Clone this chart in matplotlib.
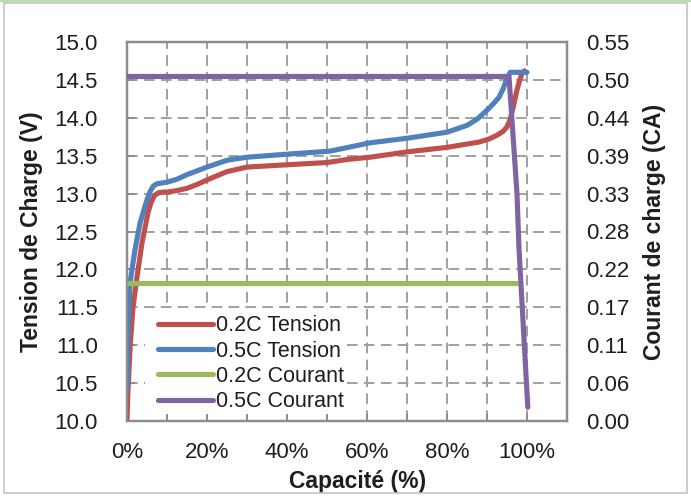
import matplotlib
matplotlib.use("Agg")
from matplotlib import pyplot as plt
from matplotlib.patches import Rectangle
from matplotlib.lines import Line2D
from matplotlib.ticker import MultipleLocator, FixedLocator, FuncFormatter

# capacity (%) / voltage (V)
cap_02_v = [0, 0.2, 0.8, 1.5, 2.5, 3.75, 5.25, 6.0, 6.8, 7.8, 9.0, 10, 12.5, 15, 17.5, 20, 25, 30,
            40, 50, 55, 60.75, 70, 80, 88, 90.5, 92.5, 94, 95, 95.8, 96.6, 97.5, 98.2, 98.75, 99.4]
volt_02 = [10.0, 10.35, 11.0, 11.5, 11.9, 12.35, 12.75, 12.88, 12.97, 13.01, 13.02, 13.02, 13.04,
           13.07, 13.12, 13.18, 13.29, 13.35, 13.38, 13.41, 13.45, 13.48, 13.55, 13.61, 13.68,
           13.72, 13.77, 13.82, 13.88, 13.98, 14.15, 14.37, 14.5, 14.59, 14.62]

cap_05_v = [0, 0.2, 0.75, 2, 3.25, 5, 5.8, 6.6, 7.5, 10, 12.5, 15, 17.5, 20, 25, 30, 40, 50.75,
            60.75, 70, 80, 85, 87.5, 90, 91.5, 93, 94, 95, 95.8, 100]
volt_05 = [10.4, 11.0, 11.82, 12.26, 12.61, 12.92, 13.03, 13.1, 13.13, 13.15, 13.19, 13.25,
           13.3, 13.35, 13.44, 13.48, 13.52, 13.56, 13.67, 13.73, 13.81, 13.9, 13.98, 14.1,
           14.18, 14.27, 14.38, 14.52, 14.6, 14.6]

# capacity (%) / current (CA)
cap_02_i = [0, 97.7]
cur_02 = [0.20, 0.20]

cap_05_i = [0, 95.5, 97.5, 98.0, 100.2]
cur_05 = [0.50, 0.50, 0.33, 0.25, 0.02]

labels = ['0.2C Tension', '0.5C Tension', '0.2C Courant', '0.5C Courant']
colors = ['#C0504D', '#4F81BD', '#9BBB59', '#8064A2']

volt_ticks = [10.0, 10.5, 11.0, 11.5, 12.0, 12.5, 13.0, 13.5, 14.0, 14.5, 15.0]
cur_ticklabels = ['0.00', '0.06', '0.11', '0.17', '0.22', '0.28', '0.33', '0.39', '0.44',
                  '0.50', '0.55']
cap_ticks = [0, 20, 40, 60, 80, 100]


def main():
    plt.rcParams['font.family'] = ['Liberation Sans', 'DejaVu Sans']
    txt = '#1e1e1e'
    grey = '#8c8c8c'

    fig = plt.figure(figsize=(6.91, 4.97), dpi=100)
    ax = fig.add_axes([127/691, 1-421/497, 440/691, 379/497])
    ax2 = ax.twinx()

    ax.plot(cap_02_v, volt_02, color=colors[0], lw=3.7, solid_capstyle='round',
            solid_joinstyle='round', zorder=3)
    ax.plot(cap_05_v, volt_05, color=colors[1], lw=3.7, solid_capstyle='round',
            solid_joinstyle='round', zorder=3)
    ax2.plot(cap_02_i, cur_02, color=colors[2], lw=3.7, solid_capstyle='butt', zorder=3)
    ax2.plot(cap_05_i, cur_05, color=colors[3], lw=3.7, solid_capstyle='round',
             solid_joinstyle='round', zorder=3)

    ax.set_xlim(0, 110)
    ax.set_ylim(10, 15)
    ax2.set_ylim(0, 0.55)

    ax.xaxis.set_major_locator(FixedLocator(cap_ticks))
    ax.xaxis.set_minor_locator(MultipleLocator(10))
    ax.xaxis.set_major_formatter(FuncFormatter(lambda v, p: f'{v:.0f}%'))
    ax.set_yticks(volt_ticks)
    ax.set_yticklabels([f'{v:.1f}' for v in volt_ticks])
    ax2.set_yticks([i * 0.055 for i in range(len(cur_ticklabels))])
    ax2.set_yticklabels(cur_ticklabels)

    dash = (0, (5.5, 3.2))
    ax.grid(True, which='both', axis='x', color='#a0a0a0', lw=1.4, linestyle=dash)
    ax.grid(True, which='major', axis='y', color='#a0a0a0', lw=1.4, linestyle=dash)
    ax.set_axisbelow(True)

    ax.tick_params(axis='x', which='both', direction='in', length=5, width=1.3, color=grey,
                   labelsize=16, labelcolor=txt, pad=15, top=False)
    ax.tick_params(axis='y', which='both', direction='in', length=6, width=1.3, color=grey,
                   labelsize=16, labelcolor=txt, pad=21)
    ax2.tick_params(axis='y', length=0, labelsize=16, labelcolor=txt, pad=14)

    for a in (ax, ax2):
        for s in a.spines.values():
            s.set_color(grey)
            s.set_linewidth(1.6)

    ax.set_xlabel('Capacité (%)', fontsize=16.5, fontweight='bold', color=txt)
    ax.set_ylabel('Tension de Charge (V)', fontsize=16.5, fontweight='bold', color=txt)
    ax2.set_ylabel('Courant de charge (CA)', fontsize=16.5, fontweight='bold', color=txt)
    ax.xaxis.set_label_coords(0.523, -0.128)
    ax.yaxis.set_label_coords(-0.19, 0.5)
    ax2.yaxis.set_label_coords(1.172, 0.5)

    # white legend area hiding grid
    ax2.add_patch(Rectangle((0.041, 0.018), 0.46, 0.278, transform=ax2.transAxes,
                            facecolor='white', edgecolor='none', zorder=4))
    handles = [Line2D([], [], color=c, lw=3.7, solid_capstyle='round') for c in colors]
    leg = ax2.legend(handles, labels, loc='upper left', bbox_to_anchor=(0.06, 0.29),
                     frameon=False, fontsize=15.5, handlelength=2.55, handletextpad=0.15,
                     labelspacing=0.2, borderpad=0.2, borderaxespad=0)
    leg.set_zorder(5)
    for t in leg.get_texts():
        t.set_color(txt)

    # chart border
    fig.patches.append(Rectangle((4/691, 4/497), 683/691, 490/497, transform=fig.transFigure,
                                 facecolor='none', edgecolor='#c4c4c4', lw=1.2))
    fig.lines.append(Line2D([0, 1], [1-1/497, 1-1/497], transform=fig.transFigure,
                            color='#a8d8a0', lw=1.2))

    fig.savefig('out.png', dpi=100)


if __name__ == "__main__":
    main()
